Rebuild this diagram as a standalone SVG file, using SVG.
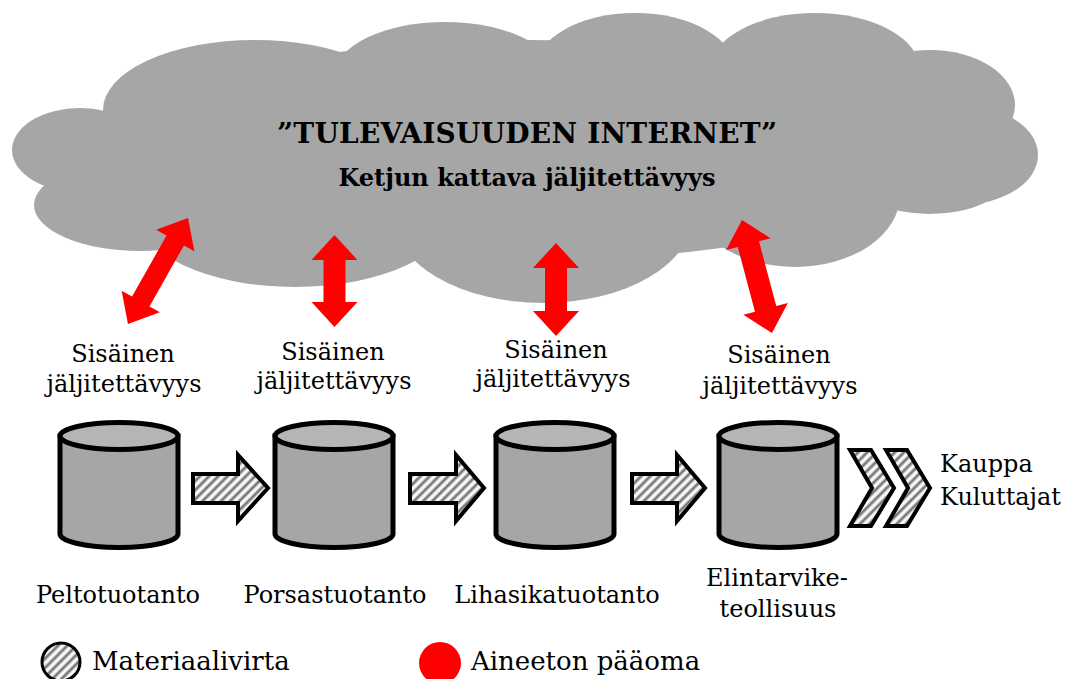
<svg xmlns="http://www.w3.org/2000/svg" width="1065" height="679" viewBox="0 0 1065 679">
<style>
.t{font-family:"DejaVu Serif","Liberation Serif",serif;fill:#000}
.lbl{font-size:24px;text-anchor:middle}
.cyl path,.cyl ellipse{stroke:#000;stroke-width:5}
.body{fill:#a6a6a6}
.top{fill:#b5b5b5}
.flow{fill:url(#stripes);stroke:#000;stroke-width:4;stroke-linejoin:miter}
.red{fill:#ff0000}
</style>
<defs>
<linearGradient id="sg" x1="0" y1="0" x2="1" y2="0">
<stop offset="0" stop-color="#ffffff"/>
<stop offset="0.2" stop-color="#f4f4f4"/>
<stop offset="0.55" stop-color="#5a5a5a"/>
<stop offset="0.9" stop-color="#f4f4f4"/>
<stop offset="1" stop-color="#ffffff"/>
</linearGradient>
<pattern id="stripes" width="6.5" height="6.5" patternUnits="userSpaceOnUse" patternTransform="rotate(45)">
<rect x="0" y="0" width="6.5" height="6.5" fill="url(#sg)"/>
</pattern>
</defs>

<g id="cloud" fill="#a6a6a6">
<ellipse cx="530" cy="150" rx="420" ry="110"/>
<ellipse cx="80" cy="150" rx="68" ry="42"/>
<ellipse cx="140" cy="205" rx="106" ry="46"/>
<ellipse cx="255" cy="110" rx="152" ry="70"/>
<ellipse cx="445" cy="75" rx="110" ry="53"/>
<ellipse cx="635" cy="70" rx="100" ry="57"/>
<ellipse cx="815" cy="70" rx="105" ry="57"/>
<ellipse cx="930" cy="105" rx="85" ry="55"/>
<ellipse cx="960" cy="155" rx="78" ry="50"/>
<ellipse cx="930" cy="178" rx="75" ry="36"/>
<ellipse cx="795" cy="195" rx="105" ry="72"/>
<ellipse cx="543" cy="215" rx="150" ry="88"/>
<ellipse cx="295" cy="210" rx="160" ry="77"/>
<text class="t" x="527" y="143" font-size="28" font-weight="bold" text-anchor="middle" textLength="500">”TULEVAISUUDEN INTERNET”</text>
<text class="t" x="527" y="186" font-size="24" font-weight="bold" text-anchor="middle">Ketjun kattava jäljitettävyys</text>
</g>

<g id="connectors">
<polygon class="red" transform="translate(158,271) rotate(29.5)" points="0,-61 22,-35 10,-35 10,35 22,35 0,61 -22,35 -10,35 -10,-35 -22,-35"/>
<polygon class="red" transform="translate(334.5,281)" points="0,-46 23,-21 11,-21 11,21 23,21 0,46 -23,21 -11,21 -11,-21 -23,-21"/>
<polygon class="red" transform="translate(556,289.5)" points="0,-46.5 23,-21.5 11,-21.5 11,21.5 23,21.5 0,46.5 -23,21.5 -11,21.5 -11,-21.5 -23,-21.5"/>
<polygon class="red" transform="translate(757,276.5) rotate(-14.9)" points="0,-58.5 23,-33.5 11,-33.5 11,33.5 23,33.5 0,58.5 -23,33.5 -11,33.5 -11,-33.5 -23,-33.5"/>
<polygon class="flow" points="193,474 238,474 238,455 268,488 238,521 238,503 193,503"/>
<polygon class="flow" points="410,474 456,474 456,455 484,488 456,521 456,503 410,503"/>
<polygon class="flow" points="632,474 677,474 677,455 705,488 677,521 677,503 632,503"/>
<polygon class="flow" points="850,450 871,450 894,488 871,526 850,526 872,488"/>
<polygon class="flow" points="886,450 907,450 930,488 907,526 886,526 908,488"/>
</g>

<g id="label1">
<text class="t lbl" x="123" y="362">Sisäinen</text>
<text class="t lbl" x="124" y="392">jäljitettävyys</text>
</g>
<g id="label2">
<text class="t lbl" x="333" y="360">Sisäinen</text>
<text class="t lbl" x="334" y="389">jäljitettävyys</text>
</g>
<g id="label3">
<text class="t lbl" x="556" y="358">Sisäinen</text>
<text class="t lbl" x="553" y="387">jäljitettävyys</text>
</g>
<g id="label4">
<text class="t lbl" x="779" y="363">Sisäinen</text>
<text class="t lbl" x="780" y="394">jäljitettävyys</text>
</g>

<g id="peltotuotanto" class="cyl">
<path class="body" d="M60,436 V534 A59,13.5 0 0 0 178,534 V436 Z"/>
<ellipse class="top" cx="119" cy="436" rx="59" ry="13.5"/>
<text class="t lbl" x="118" y="603" stroke="none">Peltotuotanto</text>
</g>
<g id="porsastuotanto" class="cyl">
<path class="body" d="M275,436 V534 A59,13.5 0 0 0 393,534 V436 Z"/>
<ellipse class="top" cx="334" cy="436" rx="59" ry="13.5"/>
<text class="t lbl" x="335" y="603" stroke="none">Porsastuotanto</text>
</g>
<g id="lihasikatuotanto" class="cyl">
<path class="body" d="M496,436 V534 A59,13.5 0 0 0 614,534 V436 Z"/>
<ellipse class="top" cx="555" cy="436" rx="59" ry="13.5"/>
<text class="t lbl" x="557" y="603" stroke="none">Lihasikatuotanto</text>
</g>
<g id="elintarviketeollisuus" class="cyl">
<path class="body" d="M719,436 V534 A59,13.5 0 0 0 837,534 V436 Z"/>
<ellipse class="top" cx="778" cy="436" rx="59" ry="13.5"/>
<text class="t lbl" x="777" y="586" stroke="none">Elintarvike-</text>
<text class="t lbl" x="778" y="617" stroke="none">teollisuus</text>
</g>

<g id="kauppa">
<text class="t" x="940" y="472" font-size="24">Kauppa</text>
<text class="t" x="940" y="505" font-size="24">Kuluttajat</text>
</g>

<g id="legend">
<circle cx="61" cy="662" r="19" fill="url(#stripes)" stroke="#000" stroke-width="3"/>
<text class="t" x="92" y="670" font-size="26">Materiaalivirta</text>
<circle cx="440" cy="663" r="21" class="red"/>
<text class="t" x="471" y="670" font-size="26">Aineeton pääoma</text>
</g>
</svg>
